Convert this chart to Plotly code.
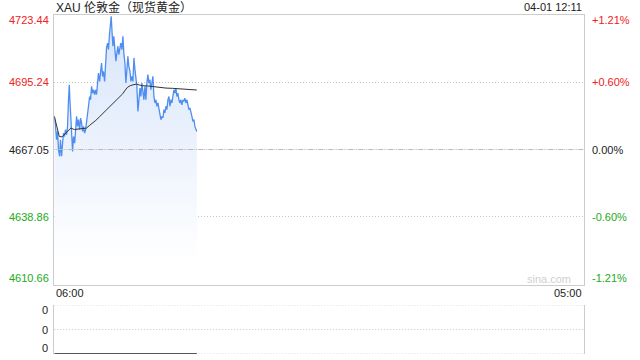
import plotly.graph_objects as go

# ---------------- data ----------------
title_text = "XAU 伦敦金（现货黄金）"
stamp_text = "04-01 12:11"
x_start_label = "06:00"
x_end_label = "05:00"
session_minutes = 1380  # 06:00 -> 05:00 next day

price_ticks = [4723.44, 4695.24, 4667.05, 4638.86, 4610.66]
price_tick_labels = ["4723.44", "4695.24", "4667.05", "4638.86", "4610.66"]
pct_tick_labels = ["+1.21%", "+0.60%", "0.00%", "-0.60%", "-1.21%"]
tick_colors = ["#ee2222", "#ee2222", "#222222", "#22aa22", "#22aa22"]
prev_close = 4667.05

price_minutes = [0, 2.4, 6, 8.5, 11, 14, 16, 19, 21.5, 24, 26.7, 29, 32, 34.5, 37, 39, 40.6, 43, 46, 47.6,
                 50, 53, 55.4, 58, 60.6, 63, 66, 68.4, 71, 73.6, 76, 79, 81.4, 84, 86.6, 89, 92, 94.4, 97, 99.6,
                 102, 105, 107.5, 110, 112.7, 115, 118, 120.5, 123, 125.7, 128, 131, 133.5, 136, 138.7, 141,
                 144, 146.5, 148.2, 150, 152.6, 155, 158, 160.4, 163, 165.6, 168, 170.8, 173, 176, 178.6, 181,
                 183.8, 186.4, 189, 191.6, 194, 197, 199.5, 202, 204.7, 207.3, 210, 212.5, 215, 217.7, 220.3,
                 223, 225.5, 228, 230.7, 233.3, 236, 238.5, 241, 243.7, 246.3, 249, 251.5, 254, 256.7, 259.4,
                 262, 264.6, 267.2, 269.8, 272.4, 275, 277.6, 280.2, 282.8, 285.4, 288, 290.6, 293.2, 295.8,
                 298.4, 301, 303.6, 306.2, 308.8, 311.4, 314, 316.6, 319.2, 321.8, 324.5, 327, 329.7, 332.3,
                 334.9, 337.5, 340, 342.7, 345.3, 348, 350.5, 353.1, 355.7, 358.3, 361, 363.5, 366, 368.7, 371]
price_values = [4680.9, 4678.1, 4671.1, 4674.6, 4666.9, 4664.2, 4671.1, 4664.2, 4669.7, 4673.9, 4672.5, 4675.3,
                4673.2, 4676.7, 4687.8, 4694.1, 4687.8, 4676.7, 4671.1, 4666.2, 4672.5, 4669.7, 4676.7, 4680.9,
                4676.7, 4679.5, 4675.3, 4680.2, 4678.1, 4674.6, 4676.7, 4673.9, 4675.3, 4679.5, 4683.7, 4685.1,
                4689.2, 4687.8, 4693.4, 4690.6, 4692.0, 4690.0, 4692.0, 4690.0, 4694.8, 4699.0, 4695.5, 4701.8,
                4703.2, 4697.6, 4699.7, 4695.5, 4706.0, 4709.5, 4711.5, 4708.8, 4715.7, 4721.3, 4722.7, 4717.1,
                4710.2, 4714.3, 4708.8, 4703.9, 4707.4, 4710.2, 4706.7, 4710.2, 4711.5, 4708.8, 4714.3, 4707.4,
                4703.2, 4694.8, 4701.8, 4706.0, 4701.8, 4699.7, 4695.5, 4697.6, 4695.5, 4705.3, 4700.4, 4695.5,
                4693.4, 4682.9, 4687.8, 4692.7, 4689.2, 4694.8, 4691.3, 4687.8, 4693.4, 4687.8, 4694.8, 4698.3,
                4694.8, 4696.2, 4692.0, 4696.2, 4697.6, 4689.2, 4686.5, 4687.8, 4685.1, 4686.5, 4683.7, 4680.9,
                4679.5, 4680.9, 4680.2, 4683.7, 4682.3, 4685.1, 4683.7, 4687.8, 4689.2, 4685.1, 4687.8, 4686.5,
                4689.2, 4692.0, 4690.6, 4692.7, 4689.2, 4690.6, 4687.8, 4686.5, 4687.8, 4685.7, 4687.8, 4687.2,
                4688.5, 4686.5, 4687.8, 4685.1, 4683.7, 4684.4, 4681.6, 4680.9, 4678.8, 4679.5, 4676.7, 4675.3,
                4674.6]

avg_minutes = [0, 6, 13, 20, 26, 31, 35, 43, 52, 60, 70, 84, 91, 100, 108, 117, 126, 134, 143, 152, 160, 169,
               178, 185, 191, 199, 208, 214, 221, 230, 243, 256, 273, 291, 308, 325, 343, 360, 371]
avg_values = [4680.9, 4676.5, 4672.5, 4672.3, 4673.2, 4674.0, 4674.5, 4676.0, 4675.4, 4675.6, 4675.8, 4676.0,
              4677.0, 4678.1, 4679.2, 4680.6, 4682.0, 4683.5, 4685.0, 4686.2, 4687.3, 4688.7, 4690.3, 4691.9,
              4693.1, 4693.8, 4694.3, 4694.4, 4694.0, 4693.7, 4693.6, 4693.3, 4693.0, 4692.7, 4692.6, 4692.4,
              4692.3, 4692.0, 4691.9]

volume_minutes = [0, 371]
volume_values = [0, 0]
volume_ticks = [0, 1, 2]
volume_tick_labels = ["0", "0", "0"]

# ---------------- figure ----------------
W, H = 640, 360
x0, x1 = 54.3 / W, 584.3 / W
main_bottom, main_top = 1 - 284.5 / H, 1 - 14.5 / H
vol_bottom, vol_top = 1 - 354 / H, 1 - 305 / H
FONT = "Liberation Sans, Arial, sans-serif"
DOT = "1px,2px"

fig = go.Figure()

# baseline for the gradient fill
fig.add_trace(go.Scatter(x=[price_minutes[0], price_minutes[-1]], y=[price_ticks[-1], price_ticks[-1]],
                         mode="lines", line=dict(width=0), hoverinfo="skip", showlegend=False,
                         xaxis="x", yaxis="y"))
fig.add_trace(go.Scatter(x=price_minutes, y=price_values, mode="lines",
                         line=dict(color="#4f8ef0", width=1.3),
                         fill="tonexty",
                         fillgradient=dict(type="vertical", start=4620.0, stop=price_ticks[0],
                                           colorscale=[[0, "rgba(255,255,255,1)"], [1, "rgba(214,228,250,1)"]]),
                         showlegend=False, xaxis="x", yaxis="y"))
fig.add_trace(go.Scatter(x=avg_minutes, y=avg_values, mode="lines",
                         line=dict(color="#333333", width=1), showlegend=False, xaxis="x", yaxis="y"))
fig.add_trace(go.Scatter(x=volume_minutes, y=volume_values, mode="lines",
                         line=dict(color="#555555", width=2), showlegend=False, xaxis="x2", yaxis="y2"))

fig.update_layout(
    width=W, height=H, margin=dict(l=0, r=0, t=0, b=0),
    paper_bgcolor="white", plot_bgcolor="white",
    font=dict(family=FONT, size=11, color="#222"),
    xaxis=dict(domain=[x0, x1], range=[0, session_minutes], showgrid=False, zeroline=False,
               showticklabels=False, ticks="", showline=True, mirror=True, linecolor="#cccccc", linewidth=1,
               anchor="y"),
    yaxis=dict(domain=[main_bottom, main_top], range=[price_ticks[-1], price_ticks[0]],
               tickvals=[price_ticks[1], price_ticks[3]], showgrid=True, gridcolor="#c4c4c4", griddash=DOT,
               gridwidth=1, zeroline=False, showticklabels=False, ticks="", showline=True, mirror=True,
               linecolor="#cccccc", linewidth=1, anchor="x"),
    xaxis2=dict(domain=[x0, x1], range=[0, session_minutes], showgrid=False, zeroline=False,
                showticklabels=False, ticks="", showline=False, anchor="y2"),
    yaxis2=dict(domain=[vol_bottom, vol_top], range=[volume_ticks[0], volume_ticks[-1]],
                showgrid=False, zeroline=False, showticklabels=False, ticks="", showline=True, mirror=True,
                linecolor="#cccccc", linewidth=1, anchor="x2"),
)

# previous-close dash-dot line
fig.add_shape(type="line", xref="x domain", yref="y", x0=0, x1=1, y0=prev_close, y1=prev_close,
              line=dict(color="#b8b8b8", width=1, dash="1px,1px,1px,1px,5px,1px"))
# volume panel grid lines
for v in volume_ticks:
    fig.add_shape(type="line", xref="x2 domain", yref="y2", x0=0, x1=1, y0=v, y1=v,
                  line=dict(color="#c4c4c4", width=1, dash=DOT), layer="below")

# price / percent labels
shifts = [-5.5, 0, 0, 0, 6.5]
for val, lab, pct, col, sh in zip(price_ticks, price_tick_labels, pct_tick_labels, tick_colors, shifts):
    fig.add_annotation(x=51 / W, xref="paper", xanchor="right", y=val, yref="y", yanchor="middle",
                       yshift=sh, text=lab, showarrow=False, font=dict(size=11, color=col, family=FONT))
    fig.add_annotation(x=590 / W, xref="paper", xanchor="left", y=val, yref="y", yanchor="middle",
                       yshift=sh, text=pct, showarrow=False, font=dict(size=11, color=col, family=FONT))

# volume labels (top, middle, bottom)
vshifts = [-5, 0, 6]
for v, lab, sh in zip(volume_ticks[::-1], volume_tick_labels, vshifts):
    fig.add_annotation(x=50 / W, xref="paper", xanchor="right", y=v, yref="y2", yanchor="middle",
                       yshift=sh, text=lab, showarrow=False, font=dict(size=11, color="#222", family=FONT))

# time labels
fig.add_annotation(x=x0, xref="paper", xanchor="left", y=1 - 293 / H, yref="paper", yanchor="middle",
                   text=x_start_label, showarrow=False, font=dict(size=11, color="#222", family=FONT))
fig.add_annotation(x=x1, xref="paper", xanchor="right", y=1 - 293 / H, yref="paper", yanchor="middle",
                   text=x_end_label, showarrow=False, font=dict(size=11, color="#222", family=FONT))

# title and timestamp
fig.add_annotation(x=x0, xref="paper", xanchor="left", y=1 - 7 / H, yref="paper", yanchor="middle",
                   text=title_text, showarrow=False,
                   font=dict(size=12, color="#222", family="Liberation Sans, Noto Sans CJK SC, sans-serif"))
fig.add_annotation(x=x1, xref="paper", xanchor="right", y=1 - 7 / H, yref="paper", yanchor="middle",
                   text=stamp_text, showarrow=False, font=dict(size=11, color="#222", family=FONT))
# watermark
fig.add_annotation(x=573 / W, xref="paper", xanchor="right", y=1 - 279 / H, yref="paper", yanchor="middle",
                   text="sina.com", showarrow=False, font=dict(size=11, color="#d0d0d0", family=FONT))

fig.write_html("out.html")
